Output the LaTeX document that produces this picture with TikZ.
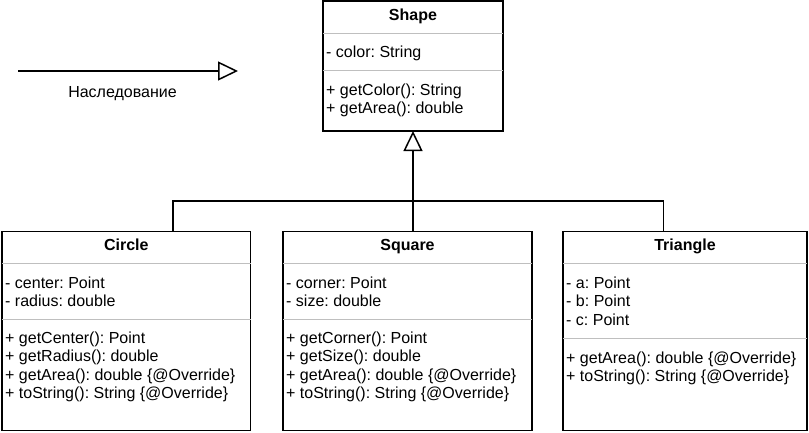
\documentclass[tikz,border=0pt]{standalone}
\usepackage{fontspec}
\setmainfont{Liberation Sans}
\usetikzlibrary{arrows.meta}
\frenchspacing
\newcommand\umlrows[4]{%
  \foreach \t [count=\i] in {#4} \node[txt] (#1-\i) at (#2, {#3+18.5*(\i-1)}) {\t};}
\begin{document}
\begin{tikzpicture}[x=1pt,y=-1pt,
  umlbox/.style={draw=black, line width=1.5pt, rectangle, inner sep=0pt, outer sep=0pt, anchor=north west},
  compart/.style={draw=black!25, line width=0.8pt},
  txt/.style={anchor=base west, inner sep=0pt, font=\fontsize{16}{18.5}\selectfont},
  ttl/.style={anchor=base, inner sep=0pt, font=\fontsize{16}{18.5}\selectfont\bfseries},
  conn/.style={draw=black, line width=1.5pt},
  inh/.style={conn, -{Triangle[open, length=20pt, width=19pt, line width=1.5pt]}}]
\useasboundingbox (0,0) rectangle (809,432);

% boxes
\node[umlbox, minimum width=180pt, minimum height=130pt] (shape) at (323,1) {};
\node[umlbox, minimum width=248.5pt, minimum height=199pt] (circle) at (2,231.5) {};
\node[umlbox, minimum width=249pt, minimum height=199pt] (square) at (283,231.5) {};
\node[umlbox, minimum width=244pt, minimum height=199pt] (triangle) at (563,231.5) {};

% compartments
\draw[compart] (shape.west |- 0,33.3) -- (shape.east |- 0,33.3);
\draw[compart] (shape.west |- 0,70.3) -- (shape.east |- 0,70.3);
\draw[compart] (circle.west |- 0,263.3) -- (circle.east |- 0,263.3);
\draw[compart] (circle.west |- 0,319.3) -- (circle.east |- 0,319.3);
\draw[compart] (square.west |- 0,263.3) -- (square.east |- 0,263.3);
\draw[compart] (square.west |- 0,319.3) -- (square.east |- 0,319.3);
\draw[compart] (triangle.west |- 0,263.3) -- (triangle.east |- 0,263.3);
\draw[compart] (triangle.west |- 0,338.3) -- (triangle.east |- 0,338.3);

% titles
\node[ttl] (shapeT) at (413,20.5) {Shape};
\node[ttl] (circleT) at (126.3,250.5) {Circle};
\node[ttl] (squareT) at (407.5,250.5) {Square};
\node[ttl] (triangleT) at (685,250.5) {Triangle};

% members
\umlrows{shapeA}{326}{57}{- color: String}
\umlrows{shapeM}{326}{95.3}{+ getColor(): String, + getArea(): double}
\umlrows{circleA}{5}{288}{- center: Point, - radius: double}
\umlrows{circleM}{5}{343}{+ getCenter(): Point, + getRadius(): double, + getArea(): double \{@Override\}, + toString(): String \{@Override\}}
\umlrows{squareA}{286}{288}{- corner: Point, - size: double}
\umlrows{squareM}{286}{343}{+ getCorner(): Point, + getSize(): double, + getArea(): double \{@Override\}, + toString(): String \{@Override\}}
\umlrows{triangleA}{566}{288}{- a: Point, - b: Point, - c: Point}
\umlrows{triangleM}{566}{363}{+ getArea(): double \{@Override\}, + toString(): String \{@Override\}}

% inheritance
\coordinate (bus) at (413,201);
\draw[inh] (square.north -| shape.south) -- (shape.south);
\draw[conn] ([xshift=171pt]circle.north west) |- (bus) -| ([xshift=100.3pt]triangle.north west);

% legend
\coordinate (la) at (18,71);
\coordinate (lb) at (238,71);
\draw[inh] (la) -- (lb);
\node[anchor=base, inner sep=0pt, font=\fontsize{16}{18.5}\selectfont] (legend) at (122.5,97) {Наследование};
\end{tikzpicture}
\end{document}
